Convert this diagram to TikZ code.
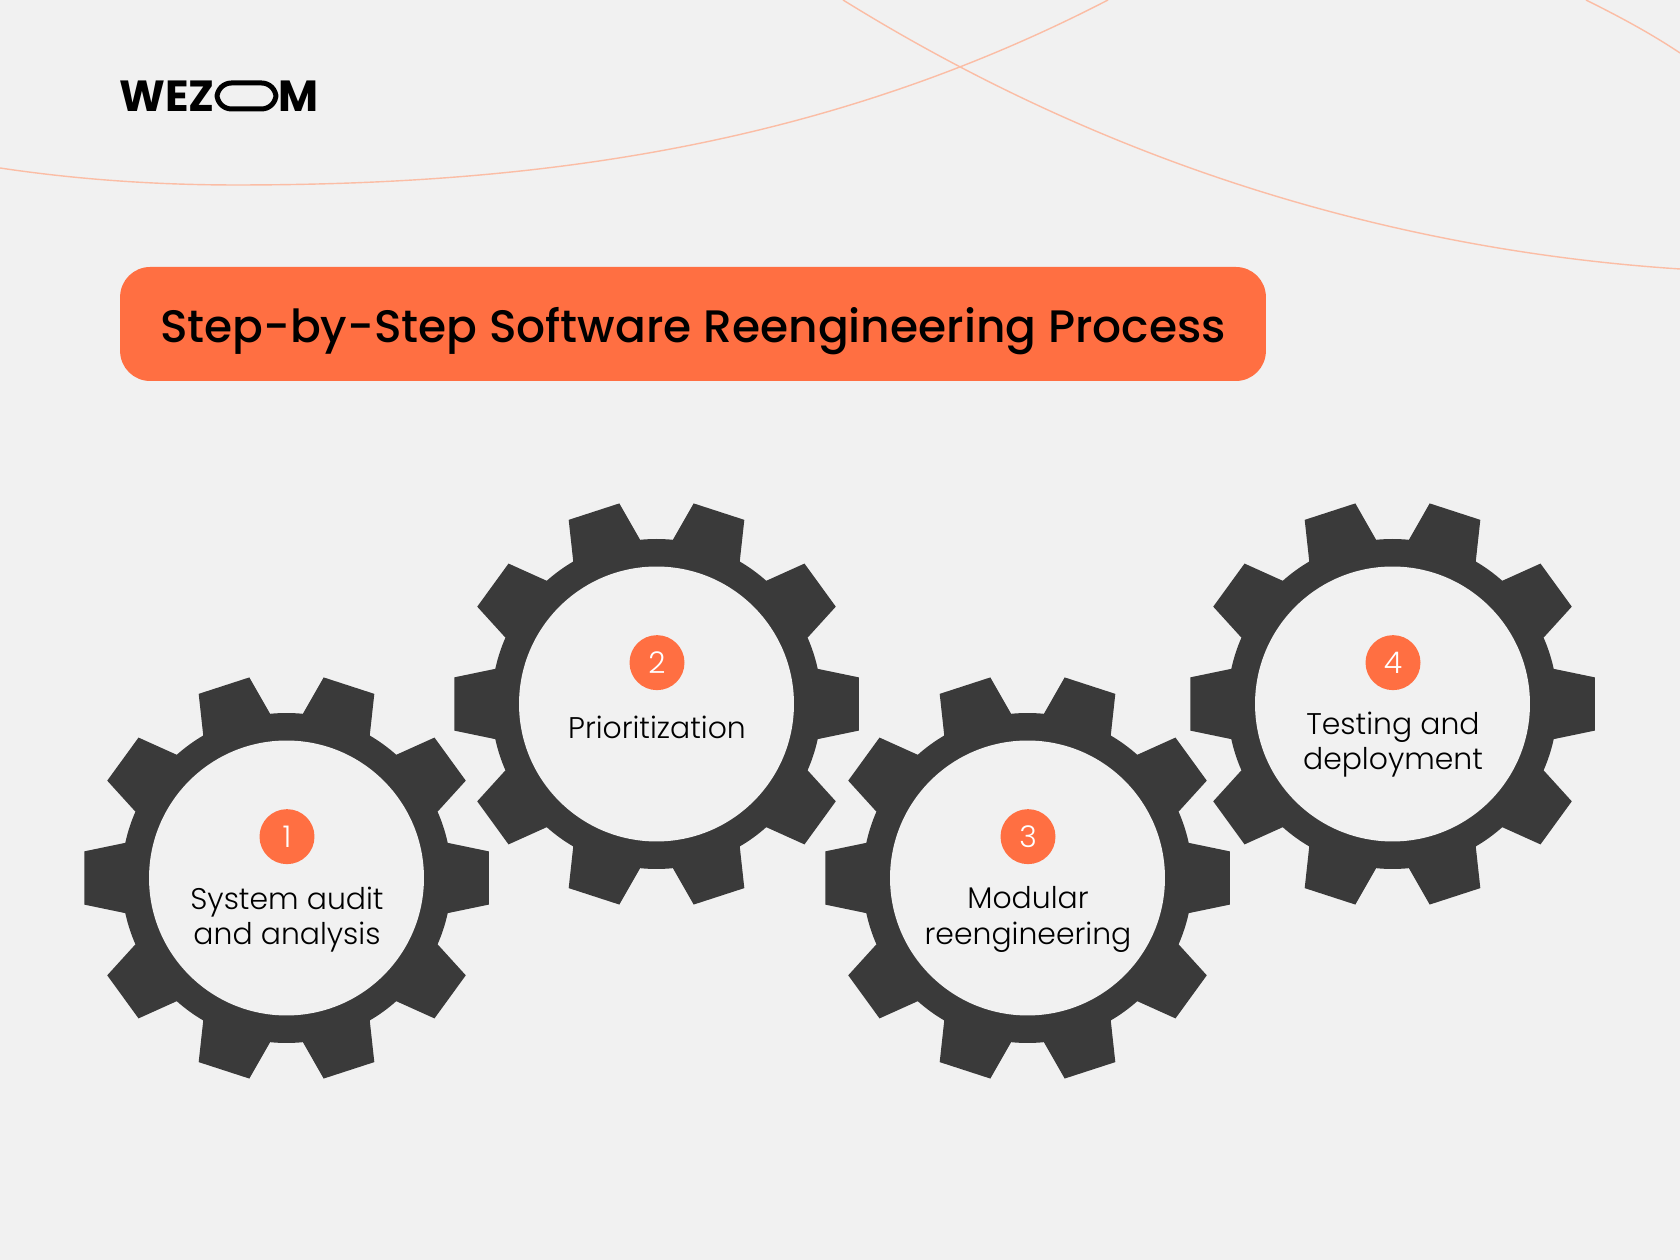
\documentclass[tikz,border=0pt]{standalone}
\usepackage{fontspec}
\usepackage{graphicx}
\setmainfont{Poppins}[UprightFont=* Light, BoldFont=* Medium]
\newfontfamily\logofont{Poppins}[UprightFont=* Bold]
\usetikzlibrary{positioning}

\definecolor{paper}{HTML}{F1F1F1}
\definecolor{accent}{HTML}{FF6F42}
\definecolor{cog}{HTML}{3A3A3A}
\definecolor{swoosh}{HTML}{FBBDA5}

% ten teeth, drawn around the point #1,#2
\newcommand{\cogwheel}[2]{
  \begin{scope}[shift={(#1,#2)}]
    \fill[cog] (-12.3:165)
      \foreach \a in {0,36,...,324} {
        -- (\a-7.5:204) -- (\a+7.5:204) -- (\a+12.3:165)
        arc[start angle=\a+12.3, end angle=\a+23.7, radius=165]
        -- (\a+36-12.3:165)
      } -- cycle;
  \end{scope}
}

\begin{document}
\begin{tikzpicture}[x=0.02cm, y=0.02cm, node distance=0.27cm, auto]

\tikzstyle{hole}=[circle, fill=paper, inner sep=0pt, minimum size=5.5cm]
\tikzstyle{badge}=[circle, fill=accent, text=white, inner sep=0pt, minimum size=1.1cm, xshift=0.01cm, font=\fontsize{17}{17}\selectfont]
\tikzstyle{caption}=[align=center, inner sep=0pt, font=\fontsize{17}{20}\selectfont]
\tikzstyle{banner}=[rectangle, rounded corners=0.6cm, fill=accent, minimum width=22.92cm, minimum height=2.28cm, inner sep=0pt]
\tikzstyle{arcline}=[draw=swoosh, line width=0.8pt]

\fill[paper] (0,0) rectangle (1680,1260);
\useasboundingbox (0,0) rectangle (1680,1260);

\draw[arcline] (0,1092) .. controls (80,1080) and (160,1075) .. (236,1075)
  .. controls (526,1075) and (818,1110) .. (1108,1260);
\draw[arcline] (843,1260) .. controls (1130,1082) and (1420,1008) .. (1680,991);
\draw[arcline] (1586,1260) .. controls (1620,1243) and (1650,1227) .. (1680,1207);

% logo
\node[inner sep=0pt, anchor=west, font=\logofont\fontsize{24.8}{25}\selectfont] (wez) at (119,1164) {WEZ};
\node[draw=black, line width=0.1cm, rounded corners=0.29cm, minimum width=1.18cm, minimum height=0.52cm, inner sep=0pt] (oval) at (246.5,1164) {};
\node[inner sep=0pt, anchor=east, font=\logofont\fontsize{24.8}{25}\selectfont] (em) at (319,1164) {M};

\node[banner] (banner) at (693,936) {};
\node[font=\bfseries\fontsize{25.9}{30}\selectfont, inner sep=0pt, yshift=-0.14cm] (heading) at (banner.center) {Step-by-Step Software Reengineering Process};

\cogwheel{286.5}{382}
\cogwheel{656.5}{556}
\cogwheel{1027.5}{382}
\cogwheel{1392.5}{556}

\node[hole] (gear1) at (286.5,382) {};
\node[hole] (gear2) at (656.5,556) {};
\node[hole] (gear3) at (1027.5,382) {};
\node[hole] (gear4) at (1392.5,556) {};

\node[badge, above=of gear1.center] (num1) {1};
\node[badge, above=of gear2.center] (num2) {2};
\node[badge, above=of gear3.center] (num3) {3};
\node[badge, above=of gear4.center] (num4) {4};

\node[caption, below=0.44cm of num1] (audit) {System audit\\and analysis};
\node[caption, below=0.51cm of num2] (prio) {Prioritization};
\node[caption, below=0.44cm of num3] (modular) {Modular\\reengineering};
\node[caption, below=0.42cm of num4] (testing) {Testing and\\deployment};

\end{tikzpicture}
\end{document}
